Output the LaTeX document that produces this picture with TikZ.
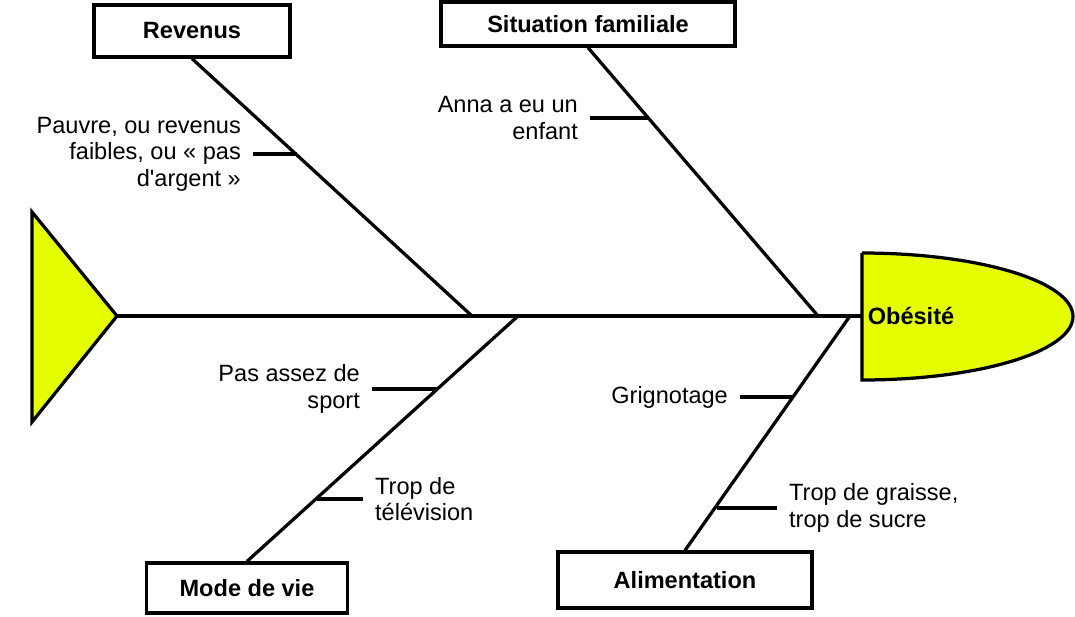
\documentclass[tikz,border=0pt]{standalone}
\usepackage{fontspec}
\setmainfont{Liberation Sans}
\definecolor{jaune}{HTML}{E6FF00}
\newcommand{\txtsize}{\fontsize{13.4}{15.1}\selectfont}

\begin{document}
\begin{tikzpicture}[x=0.02cm, y=-0.02cm, line width=1.85pt,
  causebox/.style={draw, fill=white, font=\txtsize\bfseries, inner sep=0pt},
  souscause/.style={font=\txtsize, inner sep=6pt}]
 \useasboundingbox (0,0) rectangle (1075,617);

 % queue et tete
 \draw[fill=jaune] (32,212) -- (117,316) -- (32,422) -- cycle;
 \draw[fill=jaune] (862,253) -- (862,380)
   arc[start angle=-90, end angle=90, x radius=4.22cm, y radius=1.27cm] -- cycle;
 \coordinate (queue) at (117,316);
 \coordinate (tete) at (862,316);
 \draw (911,316) node (obesite) {\txtsize\bfseries Ob\'esit\'e};

 % causes
 \draw (192,31) node[causebox, minimum width=3.92cm, minimum height=1.04cm] (revenus) {Revenus};
 \draw (588,24) node[causebox, minimum width=5.88cm, minimum height=0.88cm] (famille) {Situation familiale};
 \draw (247,588) node[causebox, minimum width=4.02cm, minimum height=1.0cm] (modevie) {Mode de vie};
 \draw (685,580) node[causebox, minimum width=5.08cm, minimum height=1.12cm] (alim) {Alimentation};

 \coordinate (s1) at (472,316);
 \coordinate (s2) at (818,316);
 \coordinate (s3) at (518,316);
 \coordinate (s4) at (850,316);

 % points sur les aretes
 \coordinate (t1) at (297,154);
 \coordinate (t2) at (649,118);
 \coordinate (t3) at (438,389);
 \coordinate (t4) at (317,499);
 \coordinate (t5) at (793,397);
 \coordinate (t6) at (717,508);

 % sous-causes
 \draw (253,154) node[souscause, anchor=east, align=right] (pauvre) {Pauvre, ou revenus\\faibles, ou \guillemotleft{} pas\\d\textquotesingle argent \guillemotright};
 \draw (590,118) node[souscause, anchor=east, align=right] (enfant) {Anna a eu un\\enfant};
 \draw (372,389) node[souscause, anchor=east, align=right] (sport) {Pas assez de\\sport};
 \draw (363,499) node[souscause, anchor=west, align=left] (tele) {Trop de\\t\'el\'evision};
 \draw (740,397) node[souscause, anchor=east, align=right] (grignot) {Grignotage};
 \draw (777,508) node[souscause, anchor=west, align=left] (graisse) {Trop de graisse,\\trop de sucre};

 \draw (queue) -- (tete);
 \draw (revenus.south) -- (s1);
 \draw (famille.south) -- (s2);
 \draw (modevie.north) -- (s3);
 \draw (alim.north) -- (s4);
 \draw (pauvre.east) -- (t1);
 \draw (enfant.east) -- (t2);
 \draw (sport.east) -- (t3);
 \draw (tele.west) -- (t4);
 \draw (grignot.east) -- (t5);
 \draw (graisse.west) -- (t6);
\end{tikzpicture}
\end{document}
